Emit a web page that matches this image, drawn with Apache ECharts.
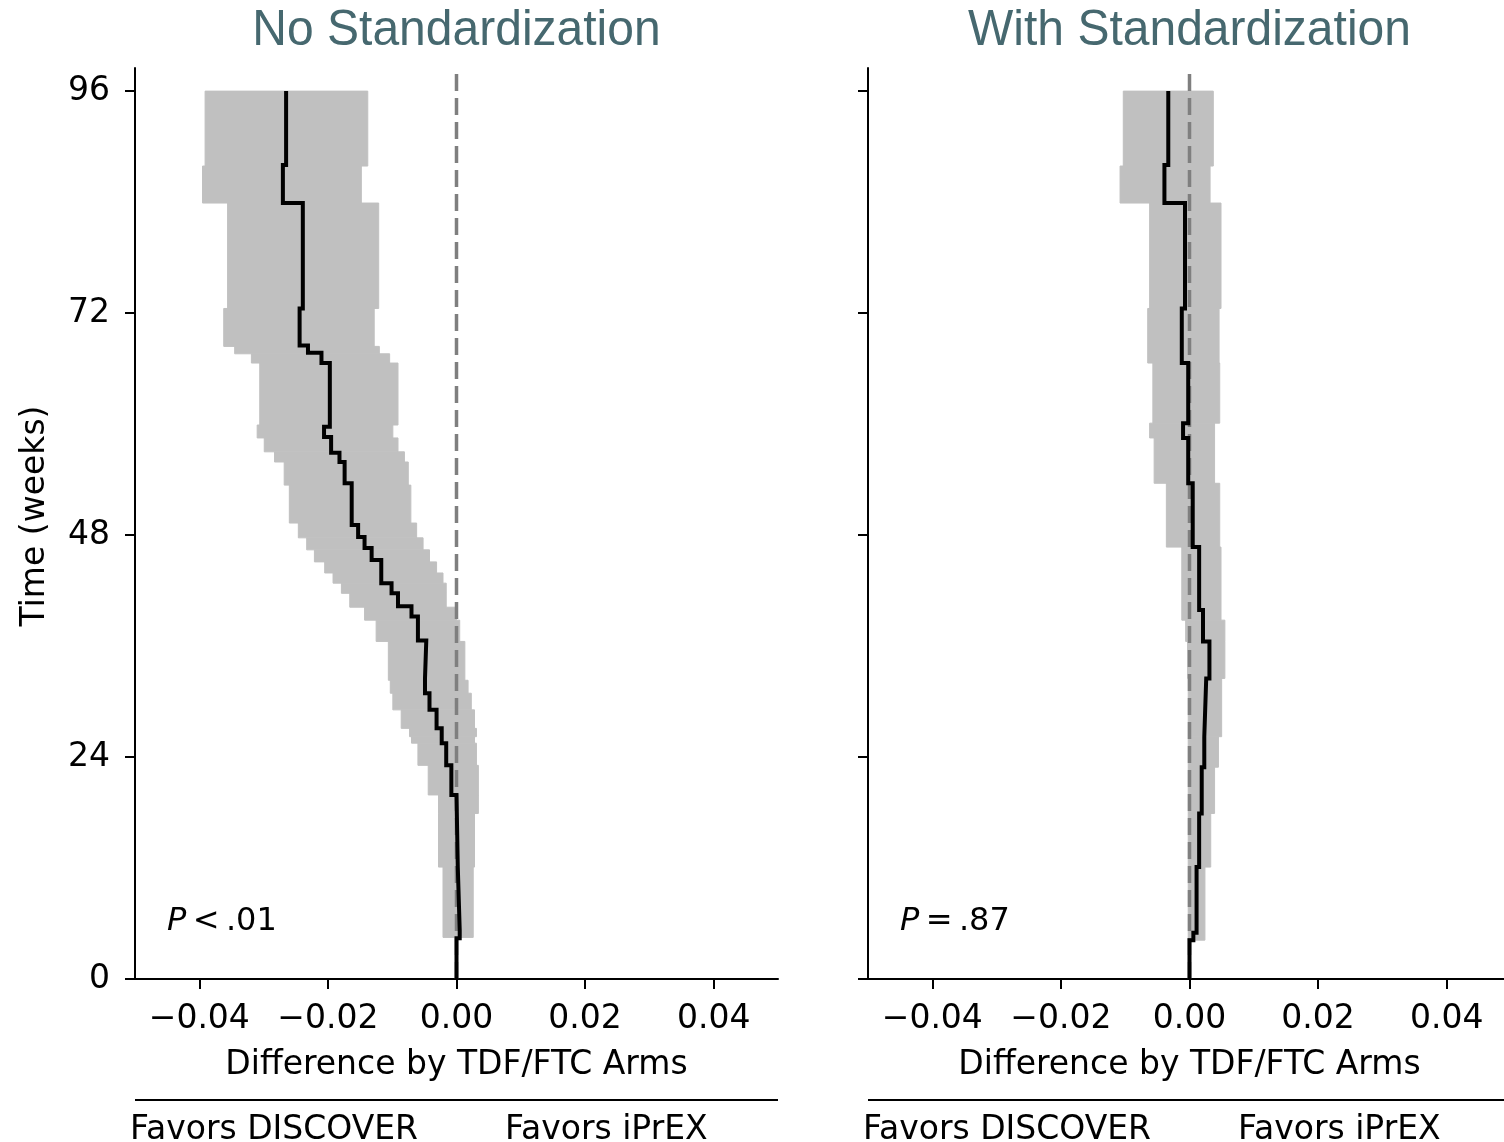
<!DOCTYPE html>
<html>
<head>
<meta charset="utf-8">
<script src="https://cdn.jsdelivr.net/npm/echarts@6/dist/echarts.min.js"></script>
<style>
  html, body { margin: 0; padding: 0; background: #fff; }
  #main { width: 1504px; height: 1142px; }
</style>
</head>
<body>
<div id="main"></div>
<script>
// every step starts at the given week and runs until the next start (the last one to END_WEEK)
const END_WEEK = 96
const Y_MAX = 98.5
const yTicks = [0, 24, 48, 72, 96]
const xTicks = [-0.04, -0.02, 0, 0.02, 0.04]
const titles = ['No Standardization', 'With Standardization']
const pTexts = ['<\u2009.01', '=\u2009.87']

// No Standardization
const leftEstStart = [0, 4.4, 5.3, 12.1, 19.9, 23.1, 25.5, 27.1, 29.1, 30.9, 32.5, 36.6, 39.2, 40.3, 41.7, 42.8,
  45.3, 46.6, 47.8, 49.1, 53.6, 55.9, 56.9, 58.6, 59.7, 66.6, 67.7, 68.5, 72.5, 83.9, 88]
const leftEst = [0, 0.0005, 0.0002, 0, -0.0008, -0.0016, -0.0023, -0.0031, -0.0042, -0.0049, -0.0047, -0.006,
  -0.007, -0.0091, -0.0101, -0.0117, -0.0132, -0.0143, -0.0153, -0.0163, -0.0174, -0.0182, -0.0195, -0.0206,
  -0.0197, -0.021, -0.0231, -0.0244, -0.0239, -0.027, -0.0265]
const leftBandStart = [4.5, 12.1, 17.9, 19.9, 23.1, 25.5, 26.2, 27.1, 29.1, 30.9, 32.3, 36.5, 38.8, 40.2, 41.7,
  42.8, 43.9, 45.1, 46.4, 47.7, 49.3, 53.4, 55.9, 57.0, 58.5, 59.9, 66.6, 67.6, 68.4, 72.5, 83.9, 87.9]
const leftLo = [-0.0021, -0.0028, -0.0028, -0.0044, -0.006, -0.007, -0.0073, -0.0086, -0.0099, -0.0103, -0.0106,
  -0.0125, -0.0143, -0.0166, -0.0179, -0.0192, -0.0205, -0.0221, -0.0233, -0.0246, -0.026, -0.0268, -0.0283,
  -0.0299, -0.031, -0.0306, -0.0319, -0.0345, -0.0362, -0.0356, -0.0395, -0.0391]
const leftHi = [0.0026, 0.0028, 0.0034, 0.0034, 0.0031, 0.0028, 0.0031, 0.0028, 0.0023, 0.0018, 0.0013, 0.0005,
  0.0, -0.0016, -0.0016, -0.0021, -0.0031, -0.0042, -0.0052, -0.0062, -0.0071, -0.0075, -0.0081, -0.0091,
  -0.0099, -0.0091, -0.0104, -0.012, -0.0128, -0.0121, -0.0148, -0.0138]

// With Standardization
const rightEstStart = [0, 4.2, 5.0, 12.1, 17.9, 22.9, 26.2, 32.5, 36.5, 39.9, 46.7, 53.6, 58.5, 60.1, 66.6, 72.5, 83.9, 88]
const rightEst = [0, 0.0006, 0.0011, 0.0015, 0.0019, 0.0023, 0.0026, 0.0031, 0.0021, 0.0015, 0.0005, -0.0002,
  -0.001, -0.0002, -0.0012, -0.0007, -0.0039, -0.0033]
const rightBandStart = [4.2, 12.1, 17.9, 22.9, 26.2, 32.5, 36.5, 38.8, 46.7, 53.6, 58.5, 60.1, 66.6, 72.5, 83.9, 87.9]
const rightLo = [-0.0002, -0.0002, -0.0002, -0.0002, -0.0002, -0.0003, -0.0006, -0.0012, -0.0036, -0.0055, -0.0062,
  -0.0057, -0.0065, -0.0062, -0.0108, -0.0103]
const rightHi = [0.0024, 0.0033, 0.0039, 0.0045, 0.005, 0.0055, 0.0055, 0.0049, 0.0047, 0.0039, 0.0039, 0.0047,
  0.0046, 0.0049, 0.0032, 0.0037]

const FONT = 'DejaVu Sans'
const FS = 33
const GRID_LEFT = [135, 868]
const GRID_TOP = 68
const GRID_W = 643
const GRID_H = 911

//阶梯线的点
const stairs = (starts, vals) => {
  let pts = []
  for (let i = 0; i < starts.length; i++) {
    let t1 = i < starts.length - 1 ? starts[i + 1] : END_WEEK
    pts.push([vals[i], starts[i]], [vals[i], t1])
  }
  return pts
}
//置信带, 每一段一个矩形
const bandItems = (starts, lo, hi) => {
  return starts.map((t, i) => [t, i < starts.length - 1 ? starts[i + 1] : END_WEEK, lo[i], hi[i]])
}

const fmtX = (v) => {
  let s = Math.abs(v).toFixed(2)
  return v < -1e-9 ? '\u2212' + s : s
}

const panels = [
  {est: stairs(leftEstStart, leftEst), band: bandItems(leftBandStart, leftLo, leftHi)},
  {est: stairs(rightEstStart, rightEst), band: bandItems(rightBandStart, rightLo, rightHi)}
]

let grid = []
let xAxis = []
let yAxis = []
let series = []
let graphic = [{
  type: 'text', x: 35, y: 516, rotation: Math.PI / 2,
  style: {text: 'Time (weeks)', font: FS + 'px "DejaVu Sans"', fill: '#000', align: 'center', verticalAlign: 'middle'}
}]

panels.forEach((p, i) => {
  grid.push({left: GRID_LEFT[i], top: GRID_TOP, width: GRID_W, height: GRID_H, outerBoundsMode: 'none'})
  xAxis.push({
    type: 'value', gridIndex: i, min: -0.05, max: 0.05,
    name: 'Difference by TDF/FTC Arms', nameLocation: 'middle', nameGap: 70,
    nameTextStyle: {fontFamily: FONT, fontSize: FS, color: '#000'},
    axisLine: {onZero: false, lineStyle: {color: '#000', width: 2}},
    axisTick: {customValues: xTicks, length: 10, lineStyle: {color: '#000', width: 2}},
    axisLabel: {customValues: xTicks, formatter: fmtX, margin: 24, fontFamily: FONT, fontSize: FS, color: '#000'},
    splitLine: {show: false}
  })
  yAxis.push({
    type: 'value', gridIndex: i, min: 0, max: Y_MAX,
    axisLine: {onZero: false, lineStyle: {color: '#000', width: 2}},
    axisTick: {customValues: yTicks, length: 10, lineStyle: {color: '#000', width: 2}},
    axisLabel: {show: i === 0, customValues: yTicks, margin: 25,
      fontFamily: FONT, fontSize: FS, color: '#000'},
    splitLine: {show: false}
  })
  series.push({
    type: 'custom', xAxisIndex: i, yAxisIndex: i, z: 1, silent: true,
    data: p.band,
    encode: {x: [2, 3], y: [0, 1]},
    renderItem: (params, api) => {
      let a = api.coord([api.value(2), api.value(1)])
      let b = api.coord([api.value(3), api.value(0)])
      return {
        type: 'rect',
        shape: {x: a[0], y: a[1], width: b[0] - a[0], height: b[1] - a[1]},
        style: {fill: '#c0c0c0', stroke: '#c0c0c0', lineWidth: 1}
      }
    }
  })
  series.push({
    type: 'line', xAxisIndex: i, yAxisIndex: i, z: 2, silent: true, symbol: 'none',
    data: [[0, 0], [0, Y_MAX]],
    lineStyle: {color: '#7f7f7f', width: 3.5, type: [17, 7]}
  })
  series.push({
    type: 'line', xAxisIndex: i, yAxisIndex: i, z: 3, silent: true, symbol: 'none',
    data: p.est,
    lineStyle: {color: '#000', width: 4, join: 'miter'}
  })

  let x0 = GRID_LEFT[i]
  graphic.push({
    type: 'text', x: x0 + GRID_W / 2, y: 31, scaleY: 1.05,
    style: {text: titles[i], font: '48px "Liberation Sans"', fill: '#46686f', align: 'center', verticalAlign: 'middle'}
  })
  graphic.push({
    type: 'text', x: x0 + 32, y: 922,
    style: {
      text: '{i|P}\u2009' + pTexts[i],
      font: '32px "DejaVu Sans"', fill: '#000', verticalAlign: 'middle',
      rich: {i: {fontStyle: 'italic', fontFamily: FONT, fontSize: 32, fill: '#000'}}
    }
  })
  graphic.push({
    type: 'line', shape: {x1: x0, y1: 1100, x2: x0 + GRID_W, y2: 1100},
    style: {stroke: '#000', lineWidth: 2}
  })
  graphic.push({
    type: 'text', x: x0 - 5, y: 1130,
    style: {text: 'Favors DISCOVER', font: FS + 'px "DejaVu Sans"', fill: '#000', verticalAlign: 'middle'}
  })
  graphic.push({
    type: 'text', x: x0 + 370, y: 1130,
    style: {text: 'Favors iPrEX', font: FS + 'px "DejaVu Sans"', fill: '#000', verticalAlign: 'middle'}
  })
})

let chart = echarts.init(document.getElementById('main'), null, {renderer: 'canvas'})
chart.setOption({
  animation: false,
  backgroundColor: '#fff',
  grid: grid,
  xAxis: xAxis,
  yAxis: yAxis,
  series: series,
  graphic: graphic
})
</script>
</body>
</html>
